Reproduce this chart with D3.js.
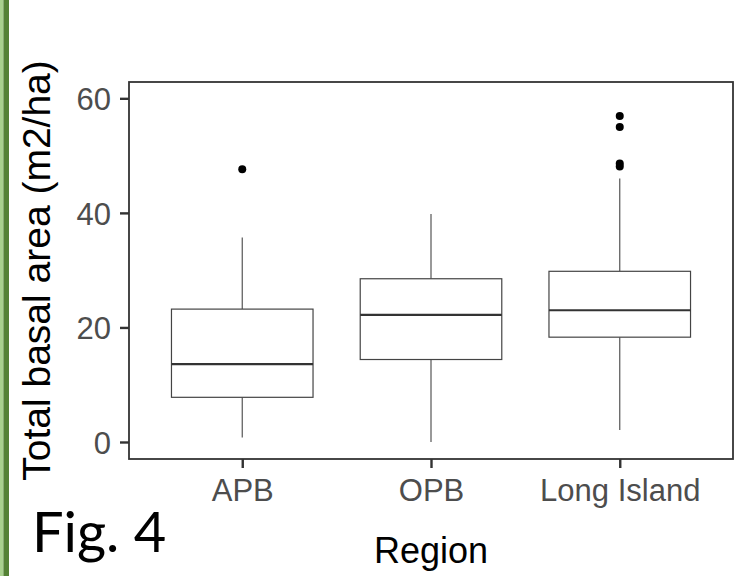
<!DOCTYPE html>
<html lang="en">
<head>
<meta charset="utf-8">
<title>Fig. 4</title>
<script src="https://cdn.jsdelivr.net/npm/d3@7"></script>
<style>
  body { margin: 0; background: #fff; }
  .tick text { font-family: "Liberation Sans", Arial, sans-serif; font-size: 31px; fill: #4d4d4d; }
  .tick line { stroke: #333; stroke-width: 2.4; }
  .domain { display: none; }
</style>
</head>
<body>
<script>
// five-number summaries
var regions = ["APB", "OPB", "Long Island"];
var lowerWhisker = [0.8, 0.0, 2.1];
var q1 = [7.8, 14.4, 18.3];
var median = [13.6, 22.2, 23.0];
var q3 = [23.2, 28.5, 29.8];
var upperWhisker = [35.7, 39.8, 46.0];
var outliers = [
  ["APB", 47.6],
  ["Long Island", 56.9],
  ["Long Island", 55.0],
  ["Long Island", 48.6],
  ["Long Island", 48.1]
];
var yTicks = [0, 20, 40, 60];

var w = 740, h = 576;
var pLeft = 129, pRight = 733, pTop = 82, pBottom = 459;

var svg = d3.select("body").append("svg")
    .attr("width", w)
    .attr("height", h);

// green slide edge on the left
svg.append("rect").attr("x", 0).attr("y", 0).attr("width", 3.4).attr("height", h).attr("fill", "#a9d18e");
svg.append("rect").attr("x", 3.4).attr("y", 0).attr("width", 5.6).attr("height", h).attr("fill", "#548235");

// ggplot discrete expansion: 0.6 units on each side
var step = (pRight - pLeft) / (regions.length - 1 + 1.2);
var x = d3.scalePoint()
    .domain(regions)
    .range([pLeft + 0.6 * step, pRight - 0.6 * step]);

var y = d3.scaleLinear()
    .domain([-2.97, 62.85])
    .range([pBottom, pTop]);

var boxW = step * 0.75;

var data = regions.map(function(r, i) {
  return { r: r, lo: lowerWhisker[i], q1: q1[i], med: median[i], q3: q3[i], hi: upperWhisker[i] };
});

var g = svg.selectAll("g.box")
    .data(data)
    .enter().append("g")
    .attr("class", "box");

g.append("line")
    .attr("x1", function(d) { return x(d.r); })
    .attr("x2", function(d) { return x(d.r); })
    .attr("y1", function(d) { return y(d.q3); })
    .attr("y2", function(d) { return y(d.hi); })
    .attr("stroke", "#555").attr("stroke-width", 1.2);
g.append("line")
    .attr("x1", function(d) { return x(d.r); })
    .attr("x2", function(d) { return x(d.r); })
    .attr("y1", function(d) { return y(d.q1); })
    .attr("y2", function(d) { return y(d.lo); })
    .attr("stroke", "#555").attr("stroke-width", 1.2);
g.append("rect")
    .attr("x", function(d) { return x(d.r) - boxW / 2; })
    .attr("width", boxW)
    .attr("y", function(d) { return y(d.q3); })
    .attr("height", function(d) { return y(d.q1) - y(d.q3); })
    .attr("fill", "#fff")
    .attr("stroke", "#444").attr("stroke-width", 1.2);
g.append("line")
    .attr("x1", function(d) { return x(d.r) - boxW / 2; })
    .attr("x2", function(d) { return x(d.r) + boxW / 2; })
    .attr("y1", function(d) { return y(d.med); })
    .attr("y2", function(d) { return y(d.med); })
    .attr("stroke", "#333").attr("stroke-width", 2.2);

svg.selectAll("circle.out")
    .data(outliers)
    .enter().append("circle")
    .attr("class", "out")
    .attr("cx", function(d) { return x(d[0]); })
    .attr("cy", function(d) { return y(d[1]); })
    .attr("r", 4)
    .attr("fill", "#000");

// panel border
svg.append("rect")
    .attr("x", pLeft).attr("y", pTop)
    .attr("width", pRight - pLeft).attr("height", pBottom - pTop)
    .attr("fill", "none")
    .attr("stroke", "#333").attr("stroke-width", 1.8);

var yAxis = d3.axisLeft(y).tickValues(yTicks).tickSize(9).tickPadding(9);
svg.append("g")
    .attr("transform", "translate(" + pLeft + ",0)")
    .call(yAxis)
    .selectAll(".tick text").attr("dy", "0.36em");

var xAxis = d3.axisBottom(x).tickSize(9).tickPadding(11);
svg.append("g")
    .attr("transform", "translate(0," + pBottom + ")")
    .call(xAxis)
    .selectAll(".tick text").attr("dy", "0.72em");

svg.append("text")
    .attr("transform", "translate(50," + ((pTop + pBottom) / 2) + ") rotate(-90)")
    .attr("text-anchor", "middle")
    .attr("font-family", "Liberation Sans, Arial, sans-serif")
    .attr("font-size", 39)
    .attr("fill", "#000")
    .text("Total basal area (m2/ha)");

svg.append("text")
    .attr("x", (pLeft + pRight) / 2).attr("y", 563)
    .attr("text-anchor", "middle")
    .attr("font-family", "Liberation Sans, Arial, sans-serif")
    .attr("font-size", 36)
    .attr("fill", "#000")
    .text("Region");

svg.append("text")
    .attr("x", 32).attr("y", 552)
    .attr("font-family", "Lato, sans-serif")
    .attr("font-size", 56)
    .attr("fill", "#000")
    .text("Fig. 4");
</script>
</body>
</html>
